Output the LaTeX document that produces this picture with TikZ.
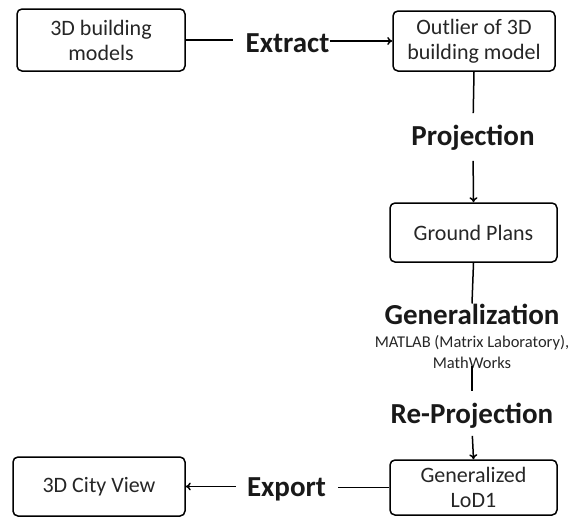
\documentclass[tikz,border=0pt]{standalone}
\usepackage{fontspec}
\setmainfont{Carlito}
\usetikzlibrary{arrows.meta}
\begin{document}
\begin{tikzpicture}[x=1pt,y=-1pt,
  box/.style={draw, line width=1.5pt, rounded corners=5pt, align=center,
    font=\fontsize{22}{25}\selectfont, inner sep=0pt, text=black!85},
  lbl/.style={font=\bfseries\fontsize{29}{32}\selectfont, inner sep=0pt, text=black!90},
  small/.style={font=\fontsize{16.5}{21}\selectfont, inner sep=0pt, align=center, text=black!85},
  conn/.style={line width=1.5pt},
  arr/.style={conn, -{To[length=5pt,width=8pt]}}]
\useasboundingbox (0,0) rectangle (580,517);
\node[box, minimum width=168pt, minimum height=62pt] (b1) at (101,40) {3D building\\models};
\node[box, minimum width=162pt, minimum height=60pt] (b2) at (474,41) {Outlier of 3D\\building model};
\node[box, minimum width=167pt, minimum height=59pt] (b3) at (473.5,232.5) {Ground Plans};
\node[box, minimum width=167pt, minimum height=55pt] (b4) at (473.5,487.5) {Generalized\\LoD1};
\node[box, minimum width=172pt, minimum height=59pt] (b5) at (99,486.5) {3D City View};
\node[lbl] (ext) at (287.5,43) {Extract};
\node[lbl] (proj) at (473,138) {Projection};
\node[lbl] (gen) at (472,314) {Generalization};
\node[small] (mat) at (472,352) {MATLAB (Matrix Laboratory),\\MathWorks};
\node[lbl] (rep) at (472,416) {Re-Projection};
\node[lbl] (exp) at (286.5,489) {Export};
\draw[conn, shorten >=12pt] (b1.east) -- (b1.east -| ext.west);
\draw[arr] (ext.east |- b2.west) -- (b2.west);
\draw[conn, shorten >=12pt] (b2.south) -- (proj.north);
\draw[arr, shorten <=10pt] (proj.south) -- (b3.north);
\draw[conn] (b3.south) -- (gen.north);
\draw[conn, shorten <=-3pt, shorten >=12pt] (mat.south) -- (rep.north);
\draw[arr, shorten <=7pt] (rep.south) -- (b4.north);
\draw[conn, shorten >=12pt] (b4.west) -- (b4.west -| exp.east);
\draw[arr, shorten <=11pt] (b5.east -| exp.west) -- (b5.east);
\end{tikzpicture}
\end{document}
